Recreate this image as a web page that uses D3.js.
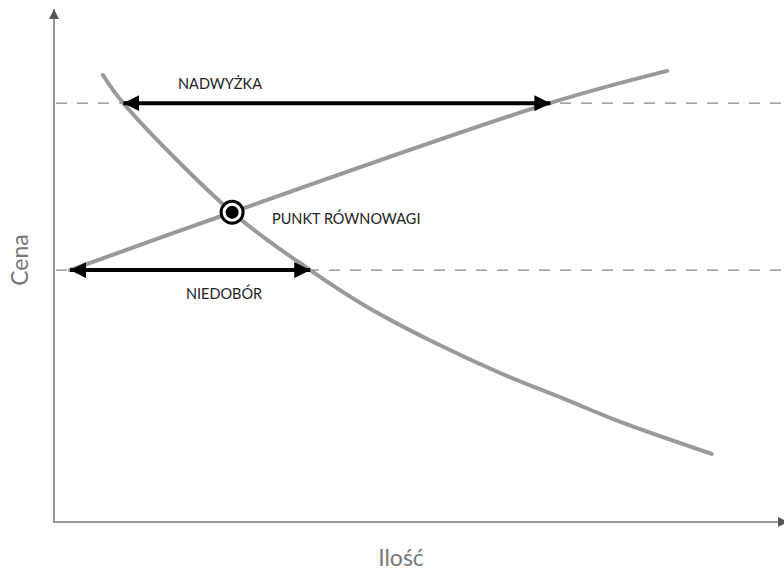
<!DOCTYPE html>
<html>
<head>
<meta charset="utf-8">
<script src="https://cdn.jsdelivr.net/npm/d3@7"></script>
<style>
  html, body { margin: 0; padding: 0; background: #fff; }
  svg { display: block; font-family: Lato, "Open Sans", sans-serif; }
</style>
</head>
<body>
<svg id="chart" width="784" height="576"></svg>
<script>
// ---- data (quantity 0–100, price 0–100) ----
const demandQ = [6.7, 9.5, 24.4, 35.1, 42.9, 51.9, 61.1, 70.3, 77.5, 90.1];
const demandP = [87.3, 81.8, 60.5, 49.2, 42.0, 35.2, 29.1, 23.8, 19.6, 13.3];
const supplyQ = [2.2, 24.4, 67.9, 84.0];
const supplyP = [49.2, 60.5, 81.8, 88.1];
const priceLevels = [81.8, 49.2];
const surplusRange = [9.5, 68.0];   // NADWYŻKA at high price
const shortageRange = [2.2, 35.1];  // NIEDOBÓR at low price
const equilibrium = [24.4, 60.5];
const labels = { surplus: "NADWYŻKA", shortage: "NIEDOBÓR", eq: "PUNKT RÓWNOWAGI", xTitle: "Ilość", yTitle: "Cena" };

const svg = d3.select("#chart");
const x = d3.scaleLinear().domain([0, 100]).range([54, 784]);
const y = d3.scaleLinear().domain([0, 100]).range([522, 10]);

const defs = svg.append("defs");
function marker(id, color, w, h, orient) {
  defs.append("marker").attr("id", id)
    .attr("viewBox", `0 0 ${w} ${h}`).attr("refX", w).attr("refY", h / 2)
    .attr("markerWidth", w).attr("markerHeight", h).attr("markerUnits", "userSpaceOnUse")
    .attr("orient", orient)
    .append("path").attr("d", `M0,0L${w},${h / 2}L0,${h}Z`).attr("fill", color);
}
marker("axArrow", "#555", 10, 10, "auto");
marker("blkEnd", "#000", 16, 16, "auto");
marker("blkStart", "#000", 16, 16, "auto-start-reverse");

// dashed price lines
svg.selectAll("line.dash").data(priceLevels).join("line").attr("class", "dash")
  .attr("x1", x(0) + 2).attr("x2", 784)
  .attr("y1", d => y(d)).attr("y2", d => y(d))
  .attr("stroke", "#888").attr("stroke-width", 1.2).attr("stroke-dasharray", "11,10");

// axes
svg.append("line").attr("x1", x(0)).attr("y1", y(0)).attr("x2", x(0)).attr("y2", y(100) - 1)
  .attr("stroke", "#999").attr("stroke-width", 2).attr("marker-end", "url(#axArrow)");
svg.append("line").attr("x1", x(0) - 1).attr("y1", y(0)).attr("x2", x(100) + 4).attr("y2", y(0))
  .attr("stroke", "#999").attr("stroke-width", 2).attr("marker-end", "url(#axArrow)");

// curves
const line = d3.line().x(d => x(d[0])).y(d => y(d[1])).curve(d3.curveCatmullRom.alpha(0.5));
const demand = demandQ.map((q, i) => [q, demandP[i]]);
const supply = supplyQ.map((q, i) => [q, supplyP[i]]);
svg.append("path").attr("d", line(supply)).attr("fill", "none")
  .attr("stroke", "#999").attr("stroke-width", 4).attr("stroke-linecap", "round");
svg.append("path").attr("d", line(demand)).attr("fill", "none")
  .attr("stroke", "#999").attr("stroke-width", 4).attr("stroke-linecap", "round");

// arrows
function dblArrow(r, p) {
  svg.append("line").attr("x1", x(r[0])).attr("x2", x(r[1]))
    .attr("y1", y(p)).attr("y2", y(p))
    .attr("stroke", "#000").attr("stroke-width", 4)
    .attr("marker-start", "url(#blkStart)").attr("marker-end", "url(#blkEnd)");
}
dblArrow(surplusRange, priceLevels[0]);
dblArrow(shortageRange, priceLevels[1]);

// equilibrium point
svg.append("circle").attr("cx", x(equilibrium[0])).attr("cy", y(equilibrium[1])).attr("r", 11)
  .attr("fill", "#fff").attr("stroke", "#000").attr("stroke-width", 3);
svg.append("circle").attr("cx", x(equilibrium[0])).attr("cy", y(equilibrium[1])).attr("r", 6.5)
  .attr("fill", "#000");

// annotations
const ann = { "font-size": 14.5, "font-weight": 400, fill: "#222" };
function annText(tx, ty, anchor, t) {
  const el = svg.append("text").attr("x", tx).attr("y", ty).attr("text-anchor", anchor).text(t);
  Object.entries(ann).forEach(([k, v]) => el.attr(k, v));
}
annText(220, 89, "middle", labels.surplus);
annText(224, 299, "middle", labels.shortage);
annText(272, 224, "start", labels.eq);

// axis titles
svg.append("text").attr("x", 401).attr("y", 566).attr("text-anchor", "middle")
  .attr("font-size", 23).attr("font-weight", 400).attr("fill", "#777").text(labels.xTitle);
svg.append("text").attr("transform", "translate(28,260) rotate(-90)").attr("text-anchor", "middle")
  .attr("font-size", 23).attr("font-weight", 400).attr("fill", "#777").text(labels.yTitle);
</script>
</body>
</html>
